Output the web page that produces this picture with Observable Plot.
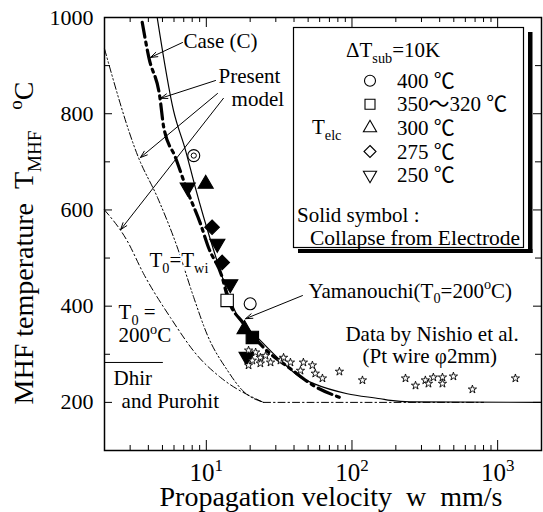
<!DOCTYPE html>
<html><head><meta charset="utf-8">
<script src="https://cdn.jsdelivr.net/npm/d3@7"></script>
<script src="https://cdn.jsdelivr.net/npm/@observablehq/plot@0.6"></script>
<style>html,body{margin:0;padding:0;background:#fff;} #chart{width:543px;height:512px;}</style>
</head><body><div id="chart"></div>
<script>
const FONT = "'Liberation Serif','Times New Roman',Times,serif";
const CJKFONT = "'Liberation Serif','Noto Sans CJK JP',serif";

// ---- axis ticks ----
const xMajorTicks = [10, 100, 1000];
const xMinorTicks = [3,4,5,6,7,8,9,20,30,40,50,60,70,80,90,200,300,400,500,600,700,800,900];
const yMajorTicks = [200, 400, 600, 800, 1000];
const yMinorTicks = [300, 500, 700, 900];

// ---- curves (w mm/s, T degC) ----
const caseCV = [4.6, 5.95, 7.2, 8.4, 10.7, 16.6, 22.4, 32.3, 44.3, 54.7, 92.7, 157, 184, 250, 2000];
const caseCT = [1000, 807, 724, 647, 537, 376, 335, 287, 252, 239, 218, 207.5, 204, 201, 200];
const presentV = [3.63, 4.03, 4.8, 5.1, 6.14, 7.4, 9.1, 10.35, 12.85, 14, 18, 24.7, 37.8, 54.4, 83];
const presentT = [990, 917, 834, 772, 709, 640, 572, 522, 460, 418, 364, 314, 270, 235, 210];
const twiV = [2, 3.42, 4.62, 6.31, 8.2, 10.2, 14, 17.7, 24.7];
const twiT = [935, 709, 626, 523, 418, 339, 266, 225, 200];
const t200V = [2, 2.86, 3.7, 5.68, 8.7, 12.5, 24.7];
const t200T = [600, 536, 468, 376, 297, 252, 200];
const floorV = [24.7, 800];
const floorT = [200, 200];
const dhirV = [2, 5];
const dhirT = [283, 283];

// ---- present experiments ----
const expV = [8.2, 7.45, 9.9, 10.95, 11.9, 12.85, 14.6, 13.9, 20, 18.3, 20.7, 18.9];
const expT = [713, 647, 654, 564, 530, 491, 446, 412, 405, 352, 335, 295];
const expTelc = ["400", "250", "300", "275", "250", "275", "250", "350", "400", "300", "350", "250"];
const expSolid = [false, true, true, true, true, true, true, false, false, true, true, true];
const expRing = [true, false, false, false, false, false, false, false, false, false, false, false];

// ---- Nishio et al. data ----
const nishioV = [19.5, 21.8, 23.5, 20.7, 23.5, 19.5, 27.6, 32.3, 37.8, 44.3, 46.4, 53.5, 56, 62.7, 82, 118, 233, 273, 319, 335, 362, 418, 418, 497, 671, 1324, 25.5, 33.9];
const nishioT = [308, 304, 293, 287, 281, 277, 283, 287, 283, 266, 283, 277, 260, 250, 264, 246, 250, 235, 246, 239, 252, 252, 239, 254, 227, 250, 297, 293];

// ---- annotations ----
const noteText = ["Case (C)", "Present", "model", "T_{0}=T_{wi}", "T_{0} =", "200^{o}C", "Dhir", "and Purohit", "Yamanouchi(T_{0}=200^{o}C)", "Data by Nishio et al.", "(Pt wire \u03c62mm)"];
const noteV = [6.97, 12.12, 14.9, 4.07, 2.5, 2.5, 2.31, 2.62, 50.2, 90.2, 118];
const noteT = [936, 863, 817, 482, 373, 324.5, 237, 189, 418, 328.6, 281];
const noteHalo = [false, false, false, true, false, false, false, false, false, false, false];
const arrowFromV = [6.86, 11.56, 11.93, 13.1, 45.7];
const arrowFromT = [948, 869, 842, 832, 422];
const arrowToV = [4.14, 4.85, 3.53, 2.58, 18.6];
const arrowToT = [917, 832, 709, 559, 374];

// ---- legend ----
const legendTelc = ["400", "350", "300", "275", "250"];
const legendLabels = ["400 \u2103", "350\uff5e320 \u2103", "300 \u2103", "275 \u2103", "250 \u2103"];
const xTitle = "Propagation velocity\u00a0\u00a0w\u00a0\u00a0mm/s";
const yTitle = "MHF temperature\u00a0\u00a0T_{MHF}\u00a0\u00a0\u00a0^{o}C";

// ---- layout ----
const W = 543, H = 512, ML = 104, MR = 2, MT = 17, MB = 62;
const FW = W - ML - MR, FH = H - MT - MB;

// ---- helpers ----
const pts = (V, T) => V.map((v, i) => ({v, t: T[i]}));
const triangleDown = {
  draw(ctx, size) {
    const y = -Math.sqrt(size / (Math.sqrt(3) * 3));
    ctx.moveTo(0, -y * 2);
    ctx.lineTo(-Math.sqrt(3) * y, y);
    ctx.lineTo(Math.sqrt(3) * y, y);
    ctx.closePath();
  }
};
const symbolFor = {"400": "circle", "350": "square", "300": "triangle", "275": "diamond2", "250": triangleDown};
const rFor = {"400": 6, "350": 7, "300": 5.6, "275": 6.6, "250": 5.6};
const d3SymbolFor = {"400": d3.symbolCircle, "350": d3.symbolSquare, "300": d3.symbolTriangle, "275": d3.symbolDiamond2, "250": triangleDown};

const exps = expV.map((v, i) => ({v, t: expT[i], k: expTelc[i], solid: expSolid[i], ring: expRing[i]}));
const nishio = pts(nishioV, nishioT);
const notes = noteText.map((s, i) => ({s, v: noteV[i], t: noteT[i], halo: noteHalo[i]}));
const arrows = arrowFromV.map((v, i) => ({v1: v, t1: arrowFromT[i], v2: arrowToV[i], t2: arrowToT[i]}));

const lineOpts = {x: "v", y: "t", stroke: "black", curve: "monotone-x"};
const expMarks = [];
for (const k of legendTelc) {
  for (const solid of [false, true]) {
    const data = exps.filter(d => d.k === k && d.solid === solid);
    if (!data.length) continue;
    expMarks.push(Plot.dot(data, {x: "v", y: "t", symbol: symbolFor[k], r: rFor[k],
      fill: solid ? "black" : "white", stroke: "black", strokeWidth: 1.1}));
  }
}
const tickMarks = [
  Plot.ruleX(xMajorTicks, {x: d => d, insetTop: FH - 10, stroke: "black"}),
  Plot.ruleX(xMinorTicks, {x: d => d, insetTop: FH - 5, stroke: "black"}),
  Plot.ruleX(xMajorTicks, {x: d => d, insetBottom: FH - 10, stroke: "black"}),
  Plot.ruleX(xMinorTicks, {x: d => d, insetBottom: FH - 5, stroke: "black"}),
  Plot.ruleY(yMajorTicks, {y: d => d, insetRight: FW - 8, stroke: "black"}),
  Plot.ruleY(yMinorTicks, {y: d => d, insetRight: FW - 6, stroke: "black"}),
  Plot.ruleY(yMajorTicks, {y: d => d, insetLeft: FW - 8, stroke: "black"}),
  Plot.ruleY(yMinorTicks, {y: d => d, insetLeft: FW - 6, stroke: "black"})
];

const chart = Plot.plot({
  width: W, height: H,
  marginLeft: ML, marginRight: MR, marginTop: MT, marginBottom: MB,
  x: {type: "log", domain: [2, 2000]},
  y: {domain: [100, 1000]},
  style: {fontFamily: FONT, fontSize: "21px", color: "black", background: "white", overflow: "visible"},
  marks: [
    Plot.axisY(yMajorTicks, {anchor: "left", tickSize: 0, tickPadding: 11, fontSize: 22, tickFormat: d => String(d)}),
    Plot.axisX(xMajorTicks, {anchor: "bottom", tickSize: 0, tickPadding: 13, fontSize: 25, tickFormat: d => `10^{${Math.round(Math.log10(d))}}`}),
    ...tickMarks,
    Plot.frame({stroke: "black", strokeWidth: 1.5}),
    Plot.line(pts(t200V, t200T), {...lineOpts, strokeWidth: 1, strokeDasharray: "7,3,1.5,3"}),
    Plot.line(pts(twiV, twiT), {...lineOpts, strokeWidth: 1, strokeDasharray: "7,2.5,1.5,2.5,1.5,2.5"}),
    Plot.line(pts(floorV, floorT), {...lineOpts, strokeWidth: 1, strokeDasharray: "7,3,1.5,3"}),
    Plot.line(pts(dhirV, dhirT), {...lineOpts, strokeWidth: 1}),
    Plot.line(pts(caseCV, caseCT), {...lineOpts, strokeWidth: 1.2}),
    Plot.line(pts(presentV, presentT), {...lineOpts, strokeWidth: 3.2, strokeDasharray: "15,5,3,5"}),
    ...expMarks,
    Plot.dot(exps.filter(d => d.ring), {x: "v", y: "t", r: 2.6, fill: "none", stroke: "black", strokeWidth: 1}),
    Plot.dot(nishio, {x: "v", y: "t", symbol: "star", r: 2.6, fill: "white", stroke: "black", strokeWidth: 0.9}),
    Plot.arrow(arrows, {x1: "v1", y1: "t1", x2: "v2", y2: "t2", stroke: "black", strokeWidth: 1, headLength: 11, headAngle: 38}),
    Plot.text(notes.filter(d => d.halo), {x: "v", y: "t", text: "s", textAnchor: "start", lineAnchor: "bottom", fontSize: 21, fill: "black", stroke: "white", strokeWidth: 4}),
    Plot.text(notes.filter(d => !d.halo), {x: "v", y: "t", text: "s", textAnchor: "start", lineAnchor: "bottom", fontSize: 21, fill: "black"}),
    Plot.text([xTitle], {frameAnchor: "bottom", textAnchor: "middle", dx: 8, dy: 55, lineAnchor: "bottom", fontSize: 28, fill: "black"}),
    Plot.text([yTitle], {frameAnchor: "left", textAnchor: "middle", dx: -80, dy: 9, rotate: -90, fontSize: 28, fill: "black"})
  ]
});
document.getElementById("chart").appendChild(chart);

// ---- legend box (drawn in the same svg) ----
const svg = d3.select(chart);
const lg = svg.append("g").attr("font-family", CJKFONT).attr("font-size", 21)
  .attr("fill", "black").attr("text-anchor", "start");
lg.append("rect").attr("x", 528).attr("y", 32).attr("width", 4.5).attr("height", 221).attr("fill", "black");
lg.append("rect").attr("x", 298).attr("y", 249).attr("width", 234.5).attr("height", 4).attr("fill", "black");
lg.append("rect").attr("x", 293.5).attr("y", 27.5).attr("width", 230).attr("height", 220)
  .attr("fill", "white").attr("stroke", "black").attr("stroke-width", 1.2);
lg.append("text").attr("x", 346).attr("y", 57).text("\u0394T_{sub}=10K");
lg.append("text").attr("x", 312).attr("y", 134).text("T_{elc}");
const legendSize = {"400": 95, "350": 100, "300": 75, "275": 92, "250": 75};
legendTelc.forEach((k, i) => {
  const cy = 80.7 + i * 23.6;
  lg.append("path").attr("transform", `translate(370,${cy})`)
    .attr("d", d3.symbol(d3SymbolFor[k], legendSize[k])())
    .attr("fill", "white").attr("stroke", "black").attr("stroke-width", 1.1);
  lg.append("text").attr("x", 397).attr("y", cy + 7).text(legendLabels[i]);
});
lg.append("text").attr("x", 297).attr("y", 222).text("Solid symbol :");
lg.append("text").attr("x", 310).attr("y", 245).attr("font-size", 21.5).text("Collapse from Electrode");

// ---- rich text: _{sub} and ^{sup} ----
function rich(el) {
  const s = el.textContent;
  if (!/[_^]\{/.test(s)) return;
  if (el.querySelector("tspan")) return;
  const base = parseFloat(getComputedStyle(el).fontSize) || 21;
  const parts = [];
  const re = /([_^])\{([^}]*)\}/g;
  let last = 0, m;
  while ((m = re.exec(s))) {
    if (m.index > last) parts.push({t: s.slice(last, m.index), k: 0});
    parts.push({t: m[2], k: m[1] === "_" ? 1 : -1});
    last = re.lastIndex;
  }
  if (last < s.length) parts.push({t: s.slice(last), k: 0});
  const sel = d3.select(el);
  sel.text(null);
  let shift = 0;
  for (const p of parts) {
    const target = p.k === 1 ? base * 0.28 : p.k === -1 ? -base * 0.42 : 0;
    const ts = sel.append("tspan").text(p.t);
    if (target !== shift) ts.attr("dy", target - shift);
    shift = target;
    if (p.k) ts.attr("font-size", base * 0.68);
  }
}
chart.querySelectorAll("text").forEach(rich);
</script></body></html>
